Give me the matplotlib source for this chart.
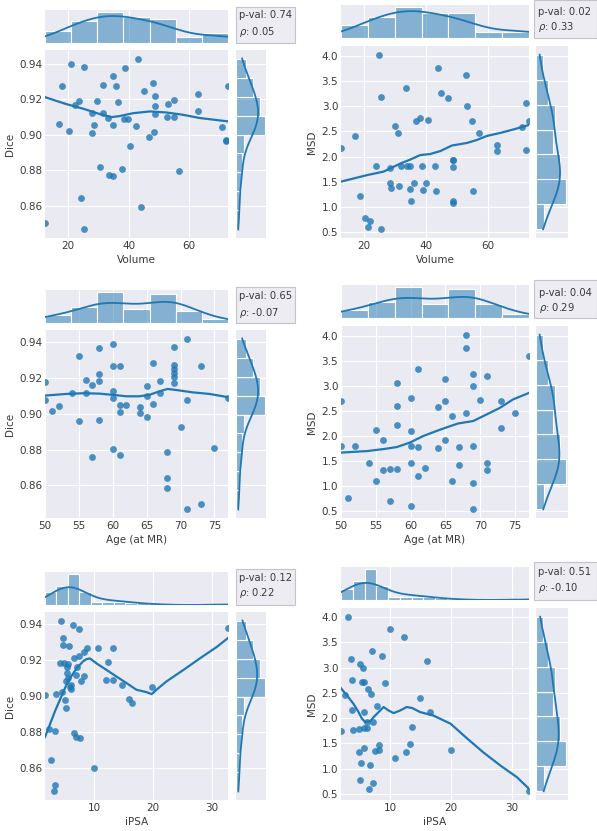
import numpy as np
import matplotlib
matplotlib.use("Agg")
import matplotlib.pyplot as plt
from matplotlib.patches import Rectangle
from matplotlib.colors import to_rgba

W, H = 597, 831
BLUE = "#1f77b4"
BG = "#EAEAF2"
TXT = "#3a3a3a"

# ---------------- data ----------------
# Panel 1: Volume vs Dice
vol_d_x = [12.3, 16.8, 18.1, 20.3, 20.8, 22.2, 23.6, 24.2, 25.1, 25.1, 27.8, 27.8, 28.5, 29.7, 30.7,
           31.6, 31.5, 33.3, 33.4, 34.7, 34.9, 34.9, 35.8, 36.5, 38.0, 38.5, 38.9, 39.7, 40.4, 42.5,
           43.3, 44.0, 45.1, 46.9, 48.2, 48.4, 48.8, 48.8, 48.8, 52.7, 53.0, 55.0, 55.2, 56.9, 63.1,
           63.1, 71.0, 72.2, 72.3, 73.0]
vol_d_y = [0.8505, 0.9062, 0.9272, 0.9021, 0.9400, 0.9168, 0.9190, 0.8646, 0.9381, 0.8468, 0.9120,
           0.9010, 0.9053, 0.9188, 0.8817, 0.9277, 0.9123, 0.9092, 0.8774, 0.9329, 0.8769, 0.9056,
           0.9274, 0.9183, 0.8806, 0.9086, 0.9376, 0.9086, 0.8936, 0.9047, 0.9428, 0.8596, 0.9248,
           0.8990, 0.9292, 0.9016, 0.9218, 0.9159, 0.9118, 0.9097, 0.9175, 0.9101, 0.9194, 0.8795,
           0.9227, 0.9136, 0.9042, 0.8965, 0.8973, 0.9274]
vol_d_lowess_x = [12.3, 19.4, 25.0, 30.5, 34.4, 37.1, 41.5, 47.1, 52.6, 58.1, 63.6, 73.0]
vol_d_lowess_y = [0.9211, 0.9172, 0.9146, 0.9116, 0.9099, 0.9105, 0.9121, 0.9131, 0.9125, 0.9112, 0.9094, 0.9075]
vol_d_hist = [6, 11, 16, 13, 12, 3, 5]

# Panel 2: Volume vs MSD
vol_m_x = [12.7, 17.3, 18.7, 20.5, 22.1, 21.3, 24.1, 24.9, 25.5, 25.5, 28.4, 28.4, 28.9, 30.1, 31.1,
           31.5, 32.1, 33.7, 34.1, 35.0, 35.0, 35.2, 36.2, 36.9, 38.2, 38.9, 39.1, 40.0, 40.7, 43.0,
           43.4, 44.0, 45.0, 47.2, 48.7, 48.7, 48.9, 48.7, 48.7, 53.0, 53.2, 54.8, 55.3, 57.0, 62.9,
           62.9, 70.9, 72.1, 72.3, 73.2]
vol_m_y = [2.18, 2.41, 1.21, 0.77, 0.72, 0.60, 1.81, 4.03, 3.19, 0.55, 1.78, 1.48, 1.38, 2.61, 2.47,
           1.42, 1.81, 3.36, 1.82, 1.81, 1.36, 1.11, 1.48, 2.71, 2.76, 1.81, 1.34, 1.48, 2.73, 1.82,
           1.32, 3.77, 3.26, 3.16, 1.79, 1.93, 1.93, 1.12, 1.08, 3.62, 3.00, 2.71, 1.32, 2.47, 2.24,
           2.11, 2.59, 2.14, 3.07, 2.71]
vol_m_lowess_x = [12.7, 21.1, 26.4, 31.8, 35.0, 38.2, 41.4, 44.7, 48.4, 53.2, 56.4, 59.6, 63.9, 68.2, 73.2]
vol_m_lowess_y = [1.50, 1.63, 1.70, 1.86, 1.94, 2.03, 2.05, 2.11, 2.22, 2.27, 2.33, 2.41, 2.47, 2.54, 2.63]
vol_m_hist = [6, 10, 15, 12, 12, 3, 3]

# Panel 3: Age vs Dice
age_d_x = [50, 50, 51, 52, 54, 55, 55, 56, 56, 57, 57, 58, 58, 58, 58, 60, 60, 60, 60, 60, 61, 61, 61,
           61, 62, 64, 64, 65, 65, 65, 66, 66, 67, 67, 68, 68, 68, 69, 69, 69, 69, 69, 69, 70, 71, 71,
           71, 73, 73, 75, 77]
age_d_y = [0.9181, 0.9081, 0.9016, 0.9045, 0.9116, 0.9324, 0.8960, 0.9190, 0.9116, 0.9160, 0.8759,
           0.9370, 0.9224, 0.9183, 0.8965, 0.9394, 0.9270, 0.9131, 0.9090, 0.8802, 0.9270, 0.9053,
           0.9010, 0.8769, 0.9049, 0.9038, 0.9006, 0.9155, 0.9099, 0.8984, 0.9287, 0.9058, 0.9185,
           0.9120, 0.8789, 0.8642, 0.8588, 0.9376, 0.9274, 0.9251, 0.9229, 0.9209, 0.9172, 0.8930,
           0.9422, 0.9081, 0.8466, 0.9268, 0.8497, 0.8811, 0.9092]
age_d_lowess_x = [50, 53.1, 55.6, 58.0, 60.0, 62.0, 63.9, 65.4, 66.9, 68.1, 69.4, 71.8, 74.3, 77]
age_d_lowess_y = [0.9103, 0.9112, 0.9116, 0.9114, 0.9107, 0.9099, 0.9099, 0.9107, 0.9127, 0.9140,
                  0.9134, 0.9121, 0.9112, 0.9094]
age_d_hist = [4, 8, 16, 7, 15, 6, 2]

# Panel 4: Age vs MSD
age_m_x = [50, 50, 51, 52, 54, 55, 55, 56, 56, 57, 57, 58, 58, 58, 58, 60, 60, 60, 60, 60, 61, 61, 61,
           62, 64, 64, 65, 65, 65, 66, 66, 67, 67, 68, 68, 68, 69, 69, 69, 69, 69, 70, 71, 71, 71, 73,
           73, 75, 77]
age_m_y = [2.70, 1.80, 0.77, 1.81, 1.47, 2.12, 1.10, 1.92, 1.32, 0.70, 1.35, 3.06, 2.60, 2.23, 1.34,
           2.75, 2.10, 1.80, 1.47, 0.60, 3.34, 1.79, 1.21, 1.36, 2.58, 1.76, 3.14, 2.69, 1.92, 2.40,
           1.10, 1.79, 1.42, 4.02, 3.75, 2.46, 3.24, 2.99, 1.80, 1.07, 0.54, 2.72, 3.19, 1.47, 1.32,
           2.70, 2.17, 2.46, 3.60]
age_m_lowess_x = [50, 53.7, 56.1, 58.0, 59.9, 61.8, 63.7, 65.1, 66.8, 69.0, 70.9, 72.8, 74.7, 77]
age_m_lowess_y = [1.67, 1.70, 1.74, 1.78, 1.87, 2.00, 2.10, 2.17, 2.25, 2.30, 2.43, 2.56, 2.73, 2.86]
age_m_hist = [4, 8, 16, 7, 15, 7, 2]

# Panel 5: iPSA vs Dice
ipsa_d_x = [1.6, 2.3, 2.6, 3.2, 3.3, 3.3, 3.5, 4.1, 4.4, 4.5, 4.7, 4.7, 4.9, 5.0, 5.1, 5.1, 5.3, 5.3,
            5.5, 5.6, 5.7, 5.9, 6.0, 6.1, 6.3, 6.5, 6.6, 6.8, 6.9, 7.1, 7.4, 7.4, 7.6, 7.7, 8.2, 8.2,
            8.8, 9.9, 10.7, 12.4, 12.0, 13.2, 13.2, 14.7, 16.0, 16.4, 19.9, 32.8]
ipsa_d_y = [0.9007, 0.8814, 0.8646, 0.8470, 0.8507, 0.8805, 0.9010, 0.9184, 0.9418, 0.9019, 0.9321,
            0.9281, 0.9180, 0.8975, 0.8933, 0.9083, 0.9162, 0.9125, 0.9098, 0.9177, 0.9277, 0.9047,
            0.9061, 0.9039, 0.9391, 0.9212, 0.8796, 0.9116, 0.8774, 0.9162, 0.9369, 0.9221, 0.8769,
            0.9083, 0.9113, 0.9241, 0.9266, 0.8598, 0.9266, 0.9190, 0.9089, 0.9266, 0.9089, 0.9061,
            0.8984, 0.8963, 0.9049, 0.9376]
ipsa_d_lowess_x = [1.6, 2.44, 3.30, 4.15, 5.0, 5.85, 6.99, 8.13, 8.69, 9.26, 10.4, 12.1, 13.8, 15.5,
                   17.2, 18.9, 19.8, 20.6, 22.3, 25.2, 28.0, 30.9, 32.8]
ipsa_d_lowess_y = [0.8772, 0.8842, 0.8915, 0.8979, 0.9043, 0.9098, 0.9153, 0.9193, 0.9204, 0.9208,
                   0.9180, 0.9144, 0.9107, 0.9071, 0.9034, 0.9021, 0.9010, 0.9034, 0.9080, 0.9144,
                   0.9208, 0.9272, 0.9321]
ipsa_d_hist = [8, 12, 20, 8, 2, 2, 2, 1, 1, 0, 0, 0, 0, 0, 0, 1]

# Panel 6: iPSA vs MSD
ipsa_m_x = [1.9, 2.6, 3.0, 3.6, 3.7, 3.7, 3.9, 4.8, 4.8, 5.0, 5.1, 5.2, 5.3, 5.5, 5.6, 5.6, 5.7, 5.7,
            6.2, 6.2, 6.4, 6.5, 6.7, 6.8, 7.0, 7.2, 7.2, 7.5, 7.8, 8.1, 8.2, 8.6, 9.1, 10.0, 10.8,
            12.2, 12.6, 13.3, 13.5, 14.9, 16.0, 16.6, 20.0, 32.8]
ipsa_m_y = [1.75, 2.46, 4.01, 3.17, 2.76, 2.17, 1.77, 1.79, 1.33, 0.78, 3.08, 1.11, 2.71, 2.99, 2.71,
            2.13, 1.41, 1.80, 1.93, 1.80, 2.58, 0.60, 1.07, 2.48, 3.34, 1.93, 0.71, 1.34, 2.24, 1.47,
            1.36, 3.24, 2.70, 3.76, 1.21, 3.60, 1.33, 1.48, 1.82, 2.40, 3.14, 2.13, 1.37, 0.55]
ipsa_m_lowess_x = [1.9, 2.88, 3.97, 4.79, 5.34, 5.89, 6.71, 7.26, 8.08, 8.9, 9.73, 10.55, 11.6, 12.7,
                   13.6, 14.9, 17.1, 19.9, 22.6, 25.3, 28.1, 30.8, 32.8]
ipsa_m_lowess_y = [2.59, 2.45, 2.28, 2.12, 1.99, 1.92, 1.94, 2.02, 2.12, 2.22, 2.15, 2.10, 2.15, 2.22,
                   2.20, 2.12, 2.05, 1.89, 1.60, 1.32, 1.06, 0.83, 0.60]
ipsa_m_hist = [7, 12, 20, 9, 2, 2, 2, 2, 1, 0, 0, 0, 0, 0, 0, 1]

# marginal histograms of the outcome (right margins)
dice_hist = [2, 2, 3, 4, 5, 18, 15, 11, 6]
msd_hist = [5, 18, 14, 10, 11, 7, 4]

p_values = [0.74, 0.02, 0.65, 0.04, 0.12, 0.51]
rho_values = [0.05, 0.33, -0.07, 0.29, 0.22, -0.10]

x_labels = ["Volume", "Volume", "Age (at MR)", "Age (at MR)", "iPSA", "iPSA"]
y_labels = ["Dice", "MSD", "Dice", "MSD", "Dice", "MSD"]
dice_ticks = [0.86, 0.88, 0.90, 0.92, 0.94]
msd_ticks = [0.5, 1.0, 1.5, 2.0, 2.5, 3.0, 3.5, 4.0]
vol_ticks = [20, 40, 60]
age_ticks = [50, 55, 60, 65, 70, 75]
ipsa_ticks = [10, 20, 30]

# ---------------- layout (pixel boxes: x0, y0, x1, y1) ----------------
LEFT = dict(main=(45, 0, 228, 188), top=(45, -40, 228, -7), right=(236, 0, 266, 188),
            box=(236, -43, 295, -7))
RIGHT = dict(main=(341, 0, 529, 192), top=(341, -41, 529, -8), right=(536, 0, 568, 192),
             box=(534, -46, 597, -8))
panel_specs = [
    (LEFT, 50, (239, 15, 32)),
    (RIGHT, 46, (538, 12, 27)),
    (LEFT, 330, (239, 296, 313)),
    (RIGHT, 326, (539, 293, 308)),
    (LEFT, 612, (239, 578, 593)),
    (RIGHT, 608, (538, 572, 588)),
]

plt.rcParams.update({
    "font.family": ["DejaVu Sans"],
    "font.size": 7.5,
    "axes.facecolor": BG,
    "axes.edgecolor": "white",
    "grid.color": "white",
    "grid.linewidth": 0.8,
    "xtick.color": TXT,
    "ytick.color": TXT,
    "text.color": TXT,
    "axes.labelcolor": TXT,
})

fig = plt.figure(figsize=(W / 100, H / 100), dpi=100)
fig.patch.set_facecolor("white")


def rect(b, dy):
    x0, y0, x1, y1 = b
    y0 += dy
    y1 += dy
    return [x0 / W, 1 - y1 / H, (x1 - x0) / W, (y1 - y0) / H]


def kde(vals, lo, hi, scale):
    v = np.asarray(vals, float)
    n = len(v)
    bw = v.std(ddof=1) * n ** (-1 / 5)
    g = np.linspace(lo, hi, 200)
    d = np.exp(-0.5 * ((g[:, None] - v[None, :]) / bw) ** 2).sum(1) / (n * bw * np.sqrt(2 * np.pi))
    return g, d * scale


def style(ax):
    for s in ax.spines.values():
        s.set_visible(False)
    ax.set_axisbelow(True)
    ax.tick_params(length=0, pad=2)


def joint(spec, top_y, text_pos, x, y, lx, ly, xhist, yhist, xticks, yticks, xlabel, ylabel, p, r):
    ax = fig.add_axes(rect(spec["main"], top_y))
    style(ax)
    ax.grid(True)
    ax.scatter(x, y, s=24, color=BLUE, alpha=0.8, linewidths=0, zorder=3)
    ax.plot(lx, ly, color=BLUE, lw=1.6, zorder=4)
    ax.set_xlim(min(x), max(x))
    yr = max(y) - min(y)
    ax.set_ylim(min(y) - 0.05 * yr, max(y) + 0.05 * yr)
    ax.set_xticks(xticks)
    ax.set_yticks(yticks)
    if ylabel == "Dice":
        ax.set_yticklabels([f"{t:.2f}" for t in yticks])
    else:
        ax.set_yticklabels([f"{t:.1f}" for t in yticks])
    ax.set_xlabel(xlabel, labelpad=3)
    ax.set_ylabel(ylabel, labelpad=3)

    face = to_rgba(BLUE, 0.5)
    # top marginal
    axx = fig.add_axes(rect(spec["top"], top_y), sharex=ax)
    style(axx)
    axx.xaxis.grid(True)
    axx.yaxis.grid(False)
    ex = np.linspace(min(x), max(x), len(xhist) + 1)
    axx.bar(ex[:-1], xhist, width=np.diff(ex), align="edge", color=face, edgecolor="white", lw=0.8)
    g, d = kde(x, min(x), max(x), sum(xhist) * (ex[1] - ex[0]))
    axx.plot(g, d, color=BLUE, lw=1.3)
    axx.set_ylim(0, max(max(xhist), d.max()) * 1.05)
    axx.tick_params(labelbottom=False, labelleft=False)

    # right marginal
    axy = fig.add_axes(rect(spec["right"], top_y), sharey=ax)
    style(axy)
    axy.yaxis.grid(True)
    axy.xaxis.grid(False)
    ey = np.linspace(min(y), max(y), len(yhist) + 1)
    axy.barh(ey[:-1], yhist, height=np.diff(ey), align="edge", color=face, edgecolor="white", lw=0.8)
    g, d = kde(y, min(y), max(y), sum(yhist) * (ey[1] - ey[0]))
    axy.plot(d, g, color=BLUE, lw=1.3)
    axy.set_xlim(0, max(max(yhist), d.max()) * 1.05)
    axy.tick_params(labelbottom=False, labelleft=False)

    # stats box
    bx0, by0, bx1, by1 = spec["box"]
    by0 += top_y
    by1 += top_y
    fig.patches.append(Rectangle((bx0 / W, 1 - by1 / H), (bx1 - bx0) / W, (by1 - by0) / H,
                                 transform=fig.transFigure, facecolor="#ECECF2",
                                 edgecolor="#c4c4c8", lw=0.8))
    tx, t1, t2 = text_pos
    fig.text(tx / W, 1 - t1 / H, f"p-val: {p:.2f}", ha="left", va="center", fontsize=7.2)
    fig.text(tx / W, 1 - t2 / H, r"$\rho$: " + f"{r:.2f}", ha="left", va="center", fontsize=7.2)


datasets = [
    (vol_d_x, vol_d_y, vol_d_lowess_x, vol_d_lowess_y, vol_d_hist, dice_hist, vol_ticks, dice_ticks),
    (vol_m_x, vol_m_y, vol_m_lowess_x, vol_m_lowess_y, vol_m_hist, msd_hist, vol_ticks, msd_ticks),
    (age_d_x, age_d_y, age_d_lowess_x, age_d_lowess_y, age_d_hist, dice_hist, age_ticks, dice_ticks),
    (age_m_x, age_m_y, age_m_lowess_x, age_m_lowess_y, age_m_hist, msd_hist, age_ticks, msd_ticks),
    (ipsa_d_x, ipsa_d_y, ipsa_d_lowess_x, ipsa_d_lowess_y, ipsa_d_hist, dice_hist, ipsa_ticks, dice_ticks),
    (ipsa_m_x, ipsa_m_y, ipsa_m_lowess_x, ipsa_m_lowess_y, ipsa_m_hist, msd_hist, ipsa_ticks, msd_ticks),
]

for i, (spec_info, ds) in enumerate(zip(panel_specs, datasets)):
    spec, top_y, tpos = spec_info
    x, y, lx, ly, xh, yh, xt, yt = ds
    joint(spec, top_y, tpos, x, y, lx, ly, xh, yh, xt, yt, x_labels[i], y_labels[i],
          p_values[i], rho_values[i])

fig.savefig("out.png", dpi=100)
